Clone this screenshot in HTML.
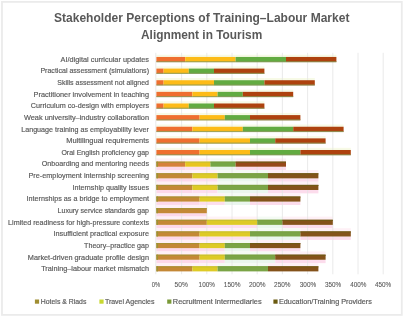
<!DOCTYPE html>
<html><head><meta charset="utf-8"><style>
html,body{margin:0;padding:0;background:#fff;}
svg{display:block;font-family:"Liberation Sans",sans-serif;filter:blur(0.45px);}
</style></head><body>
<svg width="404" height="317" viewBox="0 0 404 317">
<rect x="2" y="1.9" width="399.8" height="313" fill="#fff" stroke="#ebebeb" stroke-width="1.8"/>
<text x="54" y="21.9" font-size="12.9" font-weight="bold" fill="#595959" textLength="295.4" lengthAdjust="spacingAndGlyphs">Stakeholder Perceptions of Training–Labour Market</text>
<text x="141" y="38.7" font-size="12.9" font-weight="bold" fill="#595959" textLength="121.2" lengthAdjust="spacingAndGlyphs">Alignment in Tourism</text>
<rect x="156.40" y="54.75" width="28.80" height="2.2" fill="#F7FAE6"/>
<rect x="185.20" y="54.75" width="50.40" height="2.2" fill="#F7FAE6"/>
<rect x="235.60" y="54.75" width="50.40" height="2.2" fill="#F7FAE6"/>
<rect x="286.00" y="54.75" width="50.40" height="2.2" fill="#F7FAE6"/>
<rect x="156.40" y="66.38" width="7.20" height="2.2" fill="#F7FAE6"/>
<rect x="163.60" y="66.38" width="25.20" height="2.2" fill="#F7FAE6"/>
<rect x="188.80" y="66.38" width="25.20" height="2.2" fill="#F7FAE6"/>
<rect x="214.00" y="66.38" width="50.40" height="2.2" fill="#F7FAE6"/>
<rect x="156.40" y="78.01" width="7.20" height="2.2" fill="#F7FAE6"/>
<rect x="163.60" y="78.01" width="50.40" height="2.2" fill="#F7FAE6"/>
<rect x="214.00" y="78.01" width="50.40" height="2.2" fill="#F7FAE6"/>
<rect x="264.40" y="78.01" width="50.40" height="2.2" fill="#F7FAE6"/>
<rect x="156.40" y="89.64" width="36.00" height="2.2" fill="#F7FAE6"/>
<rect x="192.40" y="89.64" width="25.20" height="2.2" fill="#F7FAE6"/>
<rect x="217.60" y="89.64" width="25.20" height="2.2" fill="#F7FAE6"/>
<rect x="242.80" y="89.64" width="50.40" height="2.2" fill="#F7FAE6"/>
<rect x="156.40" y="101.27" width="7.20" height="2.2" fill="#F7FAE6"/>
<rect x="163.60" y="101.27" width="25.20" height="2.2" fill="#F7FAE6"/>
<rect x="188.80" y="101.27" width="25.20" height="2.2" fill="#F7FAE6"/>
<rect x="214.00" y="101.27" width="50.40" height="2.2" fill="#F7FAE6"/>
<rect x="156.40" y="112.90" width="43.20" height="2.2" fill="#F7FAE6"/>
<rect x="199.60" y="112.90" width="25.20" height="2.2" fill="#F7FAE6"/>
<rect x="224.80" y="112.90" width="25.20" height="2.2" fill="#F7FAE6"/>
<rect x="250.00" y="112.90" width="50.40" height="2.2" fill="#F7FAE6"/>
<rect x="156.40" y="124.53" width="36.00" height="2.2" fill="#F7FAE6"/>
<rect x="192.40" y="124.53" width="50.40" height="2.2" fill="#F7FAE6"/>
<rect x="242.80" y="124.53" width="50.40" height="2.2" fill="#F7FAE6"/>
<rect x="293.20" y="124.53" width="50.40" height="2.2" fill="#F7FAE6"/>
<rect x="156.40" y="136.16" width="43.20" height="2.2" fill="#F7FAE6"/>
<rect x="199.60" y="136.16" width="50.40" height="2.2" fill="#F7FAE6"/>
<rect x="250.00" y="136.16" width="25.20" height="2.2" fill="#F7FAE6"/>
<rect x="275.20" y="136.16" width="50.40" height="2.2" fill="#F7FAE6"/>
<rect x="156.40" y="147.79" width="43.20" height="2.2" fill="#F7FAE6"/>
<rect x="199.60" y="147.79" width="50.40" height="2.2" fill="#F7FAE6"/>
<rect x="250.00" y="147.79" width="50.40" height="2.2" fill="#F7FAE6"/>
<rect x="300.40" y="147.79" width="50.40" height="2.2" fill="#F7FAE6"/>
<rect x="156.40" y="158.42" width="28.80" height="3.2" fill="#FEF0F6"/>
<rect x="156.40" y="166.72" width="28.80" height="3.4" fill="#FDD8EA"/>
<rect x="185.20" y="158.42" width="25.20" height="3.2" fill="#FEF2F6"/>
<rect x="185.20" y="166.72" width="25.20" height="3.4" fill="#FDDEEE"/>
<rect x="210.40" y="158.42" width="25.20" height="3.2" fill="#F4FAF4"/>
<rect x="210.40" y="166.72" width="25.20" height="3.4" fill="#EAF6EE"/>
<rect x="235.60" y="158.42" width="50.40" height="3.2" fill="#FEF0F6"/>
<rect x="235.60" y="166.72" width="50.40" height="3.4" fill="#FCDCEC"/>
<rect x="156.40" y="170.05" width="36.00" height="3.2" fill="#FEF0F6"/>
<rect x="156.40" y="178.35" width="36.00" height="3.4" fill="#FDD8EA"/>
<rect x="192.40" y="170.05" width="25.20" height="3.2" fill="#FEF2F6"/>
<rect x="192.40" y="178.35" width="25.20" height="3.4" fill="#FDDEEE"/>
<rect x="217.60" y="170.05" width="50.40" height="3.2" fill="#F4FAF4"/>
<rect x="217.60" y="178.35" width="50.40" height="3.4" fill="#EAF6EE"/>
<rect x="268.00" y="170.05" width="50.40" height="3.2" fill="#FEF0F6"/>
<rect x="268.00" y="178.35" width="50.40" height="3.4" fill="#FCDCEC"/>
<rect x="156.40" y="181.68" width="36.00" height="3.2" fill="#FEF0F6"/>
<rect x="156.40" y="189.98" width="36.00" height="3.4" fill="#FDD8EA"/>
<rect x="192.40" y="181.68" width="25.20" height="3.2" fill="#FEF2F6"/>
<rect x="192.40" y="189.98" width="25.20" height="3.4" fill="#FDDEEE"/>
<rect x="217.60" y="181.68" width="50.40" height="3.2" fill="#F4FAF4"/>
<rect x="217.60" y="189.98" width="50.40" height="3.4" fill="#EAF6EE"/>
<rect x="268.00" y="181.68" width="50.40" height="3.2" fill="#FEF0F6"/>
<rect x="268.00" y="189.98" width="50.40" height="3.4" fill="#FCDCEC"/>
<rect x="156.40" y="193.31" width="43.20" height="3.2" fill="#FEF0F6"/>
<rect x="156.40" y="201.61" width="43.20" height="3.4" fill="#FDD8EA"/>
<rect x="199.60" y="193.31" width="25.20" height="3.2" fill="#FEF2F6"/>
<rect x="199.60" y="201.61" width="25.20" height="3.4" fill="#FDDEEE"/>
<rect x="224.80" y="193.31" width="25.20" height="3.2" fill="#F4FAF4"/>
<rect x="224.80" y="201.61" width="25.20" height="3.4" fill="#EAF6EE"/>
<rect x="250.00" y="193.31" width="50.40" height="3.2" fill="#FEF0F6"/>
<rect x="250.00" y="201.61" width="50.40" height="3.4" fill="#FCDCEC"/>
<rect x="156.40" y="204.94" width="50.40" height="3.2" fill="#FEF0F6"/>
<rect x="156.40" y="213.24" width="50.40" height="3.4" fill="#FDD8EA"/>
<rect x="156.40" y="216.57" width="50.40" height="3.2" fill="#FEF0F6"/>
<rect x="156.40" y="224.87" width="50.40" height="3.4" fill="#FDD8EA"/>
<rect x="206.80" y="216.57" width="50.40" height="3.2" fill="#FEF2F6"/>
<rect x="206.80" y="224.87" width="50.40" height="3.4" fill="#FDDEEE"/>
<rect x="257.20" y="216.57" width="25.20" height="3.2" fill="#F4FAF4"/>
<rect x="257.20" y="224.87" width="25.20" height="3.4" fill="#EAF6EE"/>
<rect x="282.40" y="216.57" width="50.40" height="3.2" fill="#FEF0F6"/>
<rect x="282.40" y="224.87" width="50.40" height="3.4" fill="#FCDCEC"/>
<rect x="156.40" y="228.20" width="43.20" height="3.2" fill="#FEF0F6"/>
<rect x="156.40" y="236.50" width="43.20" height="3.4" fill="#FDD8EA"/>
<rect x="199.60" y="228.20" width="50.40" height="3.2" fill="#FEF2F6"/>
<rect x="199.60" y="236.50" width="50.40" height="3.4" fill="#FDDEEE"/>
<rect x="250.00" y="228.20" width="50.40" height="3.2" fill="#F4FAF4"/>
<rect x="250.00" y="236.50" width="50.40" height="3.4" fill="#EAF6EE"/>
<rect x="300.40" y="228.20" width="50.40" height="3.2" fill="#FEF0F6"/>
<rect x="300.40" y="236.50" width="50.40" height="3.4" fill="#FCDCEC"/>
<rect x="156.40" y="239.83" width="43.20" height="3.2" fill="#FEF0F6"/>
<rect x="156.40" y="248.13" width="43.20" height="3.4" fill="#FDD8EA"/>
<rect x="199.60" y="239.83" width="25.20" height="3.2" fill="#FEF2F6"/>
<rect x="199.60" y="248.13" width="25.20" height="3.4" fill="#FDDEEE"/>
<rect x="224.80" y="239.83" width="25.20" height="3.2" fill="#F4FAF4"/>
<rect x="224.80" y="248.13" width="25.20" height="3.4" fill="#EAF6EE"/>
<rect x="250.00" y="239.83" width="50.40" height="3.2" fill="#FEF0F6"/>
<rect x="250.00" y="248.13" width="50.40" height="3.4" fill="#FCDCEC"/>
<rect x="156.40" y="251.46" width="43.20" height="3.2" fill="#FEF0F6"/>
<rect x="156.40" y="259.76" width="43.20" height="3.4" fill="#FDD8EA"/>
<rect x="199.60" y="251.46" width="25.20" height="3.2" fill="#FEF2F6"/>
<rect x="199.60" y="259.76" width="25.20" height="3.4" fill="#FDDEEE"/>
<rect x="224.80" y="251.46" width="50.40" height="3.2" fill="#F4FAF4"/>
<rect x="224.80" y="259.76" width="50.40" height="3.4" fill="#EAF6EE"/>
<rect x="275.20" y="251.46" width="50.40" height="3.2" fill="#FEF0F6"/>
<rect x="275.20" y="259.76" width="50.40" height="3.4" fill="#FCDCEC"/>
<rect x="156.40" y="263.09" width="36.00" height="3.2" fill="#FEF0F6"/>
<rect x="192.40" y="263.09" width="25.20" height="3.2" fill="#FEF2F6"/>
<rect x="217.60" y="263.09" width="50.40" height="3.2" fill="#F4FAF4"/>
<rect x="268.00" y="263.09" width="50.40" height="3.2" fill="#FEF0F6"/>
<line x1="155.80" y1="52.8" x2="155.80" y2="274.3" stroke="#e5e5e5" stroke-width="0.8"/>
<line x1="181.60" y1="52.8" x2="181.60" y2="274.3" stroke="#e5e5e5" stroke-width="0.8"/>
<line x1="206.80" y1="52.8" x2="206.80" y2="274.3" stroke="#e5e5e5" stroke-width="0.8"/>
<line x1="232.00" y1="52.8" x2="232.00" y2="274.3" stroke="#e5e5e5" stroke-width="0.8"/>
<line x1="257.20" y1="52.8" x2="257.20" y2="274.3" stroke="#e5e5e5" stroke-width="0.8"/>
<line x1="282.40" y1="52.8" x2="282.40" y2="274.3" stroke="#e5e5e5" stroke-width="0.8"/>
<line x1="307.60" y1="52.8" x2="307.60" y2="274.3" stroke="#e5e5e5" stroke-width="0.8"/>
<line x1="332.80" y1="52.8" x2="332.80" y2="274.3" stroke="#e5e5e5" stroke-width="0.8"/>
<line x1="358.00" y1="52.8" x2="358.00" y2="274.3" stroke="#e5e5e5" stroke-width="0.8"/>
<line x1="383.20" y1="52.8" x2="383.20" y2="274.3" stroke="#e5e5e5" stroke-width="0.8"/>
<rect x="156.40" y="56.95" width="28.80" height="5.1" fill="#EF6F2F"/>
<rect x="185.20" y="56.95" width="50.40" height="5.1" fill="#FDBB17"/>
<rect x="235.60" y="56.95" width="50.40" height="5.1" fill="#62AB41"/>
<rect x="286.00" y="56.95" width="50.40" height="5.1" fill="#AE420E"/>
<rect x="156.40" y="68.58" width="7.20" height="5.1" fill="#EF6F2F"/>
<rect x="163.60" y="68.58" width="25.20" height="5.1" fill="#FDBB17"/>
<rect x="188.80" y="68.58" width="25.20" height="5.1" fill="#62AB41"/>
<rect x="214.00" y="68.58" width="50.40" height="5.1" fill="#AE420E"/>
<rect x="156.40" y="80.21" width="7.20" height="5.1" fill="#EF6F2F"/>
<rect x="163.60" y="80.21" width="50.40" height="5.1" fill="#FDBB17"/>
<rect x="214.00" y="80.21" width="50.40" height="5.1" fill="#62AB41"/>
<rect x="264.40" y="80.21" width="50.40" height="5.1" fill="#AE420E"/>
<rect x="156.40" y="91.84" width="36.00" height="5.1" fill="#EF6F2F"/>
<rect x="192.40" y="91.84" width="25.20" height="5.1" fill="#FDBB17"/>
<rect x="217.60" y="91.84" width="25.20" height="5.1" fill="#62AB41"/>
<rect x="242.80" y="91.84" width="50.40" height="5.1" fill="#AE420E"/>
<rect x="156.40" y="103.47" width="7.20" height="5.1" fill="#EF6F2F"/>
<rect x="163.60" y="103.47" width="25.20" height="5.1" fill="#FDBB17"/>
<rect x="188.80" y="103.47" width="25.20" height="5.1" fill="#62AB41"/>
<rect x="214.00" y="103.47" width="50.40" height="5.1" fill="#AE420E"/>
<rect x="156.40" y="115.10" width="43.20" height="5.1" fill="#EF6F2F"/>
<rect x="199.60" y="115.10" width="25.20" height="5.1" fill="#FDBB17"/>
<rect x="224.80" y="115.10" width="25.20" height="5.1" fill="#62AB41"/>
<rect x="250.00" y="115.10" width="50.40" height="5.1" fill="#AE420E"/>
<rect x="156.40" y="126.73" width="36.00" height="5.1" fill="#EF6F2F"/>
<rect x="192.40" y="126.73" width="50.40" height="5.1" fill="#FDBB17"/>
<rect x="242.80" y="126.73" width="50.40" height="5.1" fill="#62AB41"/>
<rect x="293.20" y="126.73" width="50.40" height="5.1" fill="#AE420E"/>
<rect x="156.40" y="138.36" width="43.20" height="5.1" fill="#EF6F2F"/>
<rect x="199.60" y="138.36" width="50.40" height="5.1" fill="#FDBB17"/>
<rect x="250.00" y="138.36" width="25.20" height="5.1" fill="#62AB41"/>
<rect x="275.20" y="138.36" width="50.40" height="5.1" fill="#AE420E"/>
<rect x="156.40" y="149.99" width="43.20" height="5.1" fill="#EF6F2F"/>
<rect x="199.60" y="149.99" width="50.40" height="5.1" fill="#FDBB17"/>
<rect x="250.00" y="149.99" width="50.40" height="5.1" fill="#62AB41"/>
<rect x="300.40" y="149.99" width="50.40" height="5.1" fill="#AE420E"/>
<rect x="156.40" y="161.62" width="28.80" height="5.1" fill="#D6803A"/>
<rect x="185.20" y="161.62" width="25.20" height="5.1" fill="#E8C420"/>
<rect x="210.40" y="161.62" width="25.20" height="5.1" fill="#74A646"/>
<rect x="235.60" y="161.62" width="50.40" height="5.1" fill="#96481A"/>
<rect x="156.40" y="173.25" width="36.00" height="5.1" fill="#C48836"/>
<rect x="192.40" y="173.25" width="25.20" height="5.1" fill="#DECA26"/>
<rect x="217.60" y="173.25" width="50.40" height="5.1" fill="#7AA446"/>
<rect x="268.00" y="173.25" width="50.40" height="5.1" fill="#84521A"/>
<rect x="156.40" y="184.88" width="36.00" height="5.1" fill="#C48836"/>
<rect x="192.40" y="184.88" width="25.20" height="5.1" fill="#DECA26"/>
<rect x="217.60" y="184.88" width="50.40" height="5.1" fill="#7AA446"/>
<rect x="268.00" y="184.88" width="50.40" height="5.1" fill="#84521A"/>
<rect x="156.40" y="196.51" width="43.20" height="5.1" fill="#C48836"/>
<rect x="199.60" y="196.51" width="25.20" height="5.1" fill="#DECA26"/>
<rect x="224.80" y="196.51" width="25.20" height="5.1" fill="#7AA446"/>
<rect x="250.00" y="196.51" width="50.40" height="5.1" fill="#84521A"/>
<rect x="156.40" y="208.14" width="50.40" height="5.1" fill="#C48836"/>
<rect x="156.40" y="219.77" width="50.40" height="5.1" fill="#C48836"/>
<rect x="206.80" y="219.77" width="50.40" height="5.1" fill="#DECA26"/>
<rect x="257.20" y="219.77" width="25.20" height="5.1" fill="#7AA446"/>
<rect x="282.40" y="219.77" width="50.40" height="5.1" fill="#84521A"/>
<rect x="156.40" y="231.40" width="43.20" height="5.1" fill="#C48836"/>
<rect x="199.60" y="231.40" width="50.40" height="5.1" fill="#DECA26"/>
<rect x="250.00" y="231.40" width="50.40" height="5.1" fill="#7AA446"/>
<rect x="300.40" y="231.40" width="50.40" height="5.1" fill="#84521A"/>
<rect x="156.40" y="243.03" width="43.20" height="5.1" fill="#C48836"/>
<rect x="199.60" y="243.03" width="25.20" height="5.1" fill="#DECA26"/>
<rect x="224.80" y="243.03" width="25.20" height="5.1" fill="#7AA446"/>
<rect x="250.00" y="243.03" width="50.40" height="5.1" fill="#84521A"/>
<rect x="156.40" y="254.66" width="43.20" height="5.1" fill="#C48836"/>
<rect x="199.60" y="254.66" width="25.20" height="5.1" fill="#DECA26"/>
<rect x="224.80" y="254.66" width="50.40" height="5.1" fill="#7AA446"/>
<rect x="275.20" y="254.66" width="50.40" height="5.1" fill="#84521A"/>
<rect x="156.40" y="266.29" width="36.00" height="5.1" fill="#C48836"/>
<rect x="192.40" y="266.29" width="25.20" height="5.1" fill="#DECA26"/>
<rect x="217.60" y="266.29" width="50.40" height="5.1" fill="#7AA446"/>
<rect x="268.00" y="266.29" width="50.40" height="5.1" fill="#84521A"/>
<rect x="156.40" y="61.15" width="28.80" height="1.2" fill="#86985A" fill-opacity="0.75"/>
<rect x="185.20" y="61.15" width="50.40" height="1.2" fill="#86985A" fill-opacity="0.75"/>
<rect x="235.60" y="61.15" width="50.40" height="1.2" fill="#86985A" fill-opacity="0.75"/>
<rect x="286.00" y="61.15" width="50.40" height="1.2" fill="#86985A" fill-opacity="0.75"/>
<rect x="156.40" y="72.78" width="7.20" height="1.2" fill="#86985A" fill-opacity="0.75"/>
<rect x="163.60" y="72.78" width="25.20" height="1.2" fill="#86985A" fill-opacity="0.75"/>
<rect x="188.80" y="72.78" width="25.20" height="1.2" fill="#86985A" fill-opacity="0.75"/>
<rect x="214.00" y="72.78" width="50.40" height="1.2" fill="#86985A" fill-opacity="0.75"/>
<rect x="156.40" y="84.41" width="7.20" height="1.2" fill="#86985A" fill-opacity="0.75"/>
<rect x="163.60" y="84.41" width="50.40" height="1.2" fill="#86985A" fill-opacity="0.75"/>
<rect x="214.00" y="84.41" width="50.40" height="1.2" fill="#86985A" fill-opacity="0.75"/>
<rect x="264.40" y="84.41" width="50.40" height="1.2" fill="#86985A" fill-opacity="0.75"/>
<rect x="156.40" y="96.04" width="36.00" height="1.2" fill="#86985A" fill-opacity="0.75"/>
<rect x="192.40" y="96.04" width="25.20" height="1.2" fill="#86985A" fill-opacity="0.75"/>
<rect x="217.60" y="96.04" width="25.20" height="1.2" fill="#86985A" fill-opacity="0.75"/>
<rect x="242.80" y="96.04" width="50.40" height="1.2" fill="#86985A" fill-opacity="0.75"/>
<rect x="156.40" y="107.67" width="7.20" height="1.2" fill="#86985A" fill-opacity="0.75"/>
<rect x="163.60" y="107.67" width="25.20" height="1.2" fill="#86985A" fill-opacity="0.75"/>
<rect x="188.80" y="107.67" width="25.20" height="1.2" fill="#86985A" fill-opacity="0.75"/>
<rect x="214.00" y="107.67" width="50.40" height="1.2" fill="#86985A" fill-opacity="0.75"/>
<rect x="156.40" y="119.30" width="43.20" height="1.2" fill="#86985A" fill-opacity="0.75"/>
<rect x="199.60" y="119.30" width="25.20" height="1.2" fill="#86985A" fill-opacity="0.75"/>
<rect x="224.80" y="119.30" width="25.20" height="1.2" fill="#86985A" fill-opacity="0.75"/>
<rect x="250.00" y="119.30" width="50.40" height="1.2" fill="#86985A" fill-opacity="0.75"/>
<rect x="156.40" y="130.93" width="36.00" height="1.2" fill="#86985A" fill-opacity="0.75"/>
<rect x="192.40" y="130.93" width="50.40" height="1.2" fill="#86985A" fill-opacity="0.75"/>
<rect x="242.80" y="130.93" width="50.40" height="1.2" fill="#86985A" fill-opacity="0.75"/>
<rect x="293.20" y="130.93" width="50.40" height="1.2" fill="#86985A" fill-opacity="0.75"/>
<rect x="156.40" y="142.56" width="43.20" height="1.2" fill="#86985A" fill-opacity="0.75"/>
<rect x="199.60" y="142.56" width="50.40" height="1.2" fill="#86985A" fill-opacity="0.75"/>
<rect x="250.00" y="142.56" width="25.20" height="1.2" fill="#86985A" fill-opacity="0.75"/>
<rect x="275.20" y="142.56" width="50.40" height="1.2" fill="#86985A" fill-opacity="0.75"/>
<rect x="156.40" y="154.19" width="43.20" height="1.2" fill="#86985A" fill-opacity="0.75"/>
<rect x="199.60" y="154.19" width="50.40" height="1.2" fill="#86985A" fill-opacity="0.75"/>
<rect x="250.00" y="154.19" width="50.40" height="1.2" fill="#86985A" fill-opacity="0.75"/>
<rect x="300.40" y="154.19" width="50.40" height="1.2" fill="#86985A" fill-opacity="0.75"/>
<rect x="156.40" y="161.62" width="28.80" height="1.1" fill="#A89034"/>
<rect x="185.20" y="161.62" width="25.20" height="1.1" fill="#C8C030"/>
<rect x="210.40" y="161.62" width="25.20" height="1.1" fill="#78A040"/>
<rect x="235.60" y="161.62" width="50.40" height="1.1" fill="#705A16"/>
<rect x="156.40" y="173.25" width="36.00" height="1.1" fill="#A89034"/>
<rect x="192.40" y="173.25" width="25.20" height="1.1" fill="#C8C030"/>
<rect x="217.60" y="173.25" width="50.40" height="1.1" fill="#78A040"/>
<rect x="268.00" y="173.25" width="50.40" height="1.1" fill="#705A16"/>
<rect x="156.40" y="184.88" width="36.00" height="1.1" fill="#A89034"/>
<rect x="192.40" y="184.88" width="25.20" height="1.1" fill="#C8C030"/>
<rect x="217.60" y="184.88" width="50.40" height="1.1" fill="#78A040"/>
<rect x="268.00" y="184.88" width="50.40" height="1.1" fill="#705A16"/>
<rect x="156.40" y="196.51" width="43.20" height="1.1" fill="#A89034"/>
<rect x="199.60" y="196.51" width="25.20" height="1.1" fill="#C8C030"/>
<rect x="224.80" y="196.51" width="25.20" height="1.1" fill="#78A040"/>
<rect x="250.00" y="196.51" width="50.40" height="1.1" fill="#705A16"/>
<rect x="156.40" y="208.14" width="50.40" height="1.1" fill="#A89034"/>
<rect x="156.40" y="219.77" width="50.40" height="1.1" fill="#A89034"/>
<rect x="206.80" y="219.77" width="50.40" height="1.1" fill="#C8C030"/>
<rect x="257.20" y="219.77" width="25.20" height="1.1" fill="#78A040"/>
<rect x="282.40" y="219.77" width="50.40" height="1.1" fill="#705A16"/>
<rect x="156.40" y="231.40" width="43.20" height="1.1" fill="#A89034"/>
<rect x="199.60" y="231.40" width="50.40" height="1.1" fill="#C8C030"/>
<rect x="250.00" y="231.40" width="50.40" height="1.1" fill="#78A040"/>
<rect x="300.40" y="231.40" width="50.40" height="1.1" fill="#705A16"/>
<rect x="156.40" y="243.03" width="43.20" height="1.1" fill="#A89034"/>
<rect x="199.60" y="243.03" width="25.20" height="1.1" fill="#C8C030"/>
<rect x="224.80" y="243.03" width="25.20" height="1.1" fill="#78A040"/>
<rect x="250.00" y="243.03" width="50.40" height="1.1" fill="#705A16"/>
<rect x="156.40" y="254.66" width="43.20" height="1.1" fill="#A89034"/>
<rect x="199.60" y="254.66" width="25.20" height="1.1" fill="#C8C030"/>
<rect x="224.80" y="254.66" width="50.40" height="1.1" fill="#78A040"/>
<rect x="275.20" y="254.66" width="50.40" height="1.1" fill="#705A16"/>
<rect x="156.40" y="266.29" width="36.00" height="1.1" fill="#A89034"/>
<rect x="192.40" y="266.29" width="25.20" height="1.1" fill="#C8C030"/>
<rect x="217.60" y="266.29" width="50.40" height="1.1" fill="#78A040"/>
<rect x="268.00" y="266.29" width="50.40" height="1.1" fill="#705A16"/>
<rect x="156.40" y="161.62" width="1.6" height="5.1" fill="#9C9234"/>
<rect x="156.40" y="173.25" width="1.6" height="5.1" fill="#9C9234"/>
<rect x="156.40" y="184.88" width="1.6" height="5.1" fill="#9C9234"/>
<rect x="156.40" y="196.51" width="1.6" height="5.1" fill="#9C9234"/>
<rect x="156.40" y="208.14" width="1.6" height="5.1" fill="#9C9234"/>
<rect x="156.40" y="219.77" width="1.6" height="5.1" fill="#9C9234"/>
<rect x="156.40" y="231.40" width="1.6" height="5.1" fill="#9C9234"/>
<rect x="156.40" y="243.03" width="1.6" height="5.1" fill="#9C9234"/>
<rect x="156.40" y="254.66" width="1.6" height="5.1" fill="#9C9234"/>
<rect x="156.40" y="266.29" width="1.6" height="5.1" fill="#9C9234"/>
<text x="60.6" y="61.80" font-size="7.9" fill="#595959" stroke="#595959" stroke-width="0.18" textLength="88.4" lengthAdjust="spacingAndGlyphs">AI/digital curricular updates</text>
<text x="40.4" y="73.43" font-size="7.9" fill="#595959" stroke="#595959" stroke-width="0.18" textLength="108.6" lengthAdjust="spacingAndGlyphs">Practical assessment (simulations)</text>
<text x="57.3" y="85.06" font-size="7.9" fill="#595959" stroke="#595959" stroke-width="0.18" textLength="91.7" lengthAdjust="spacingAndGlyphs">Skills assessment not aligned</text>
<text x="33.6" y="96.69" font-size="7.9" fill="#595959" stroke="#595959" stroke-width="0.18" textLength="115.4" lengthAdjust="spacingAndGlyphs">Practitioner involvement in teaching</text>
<text x="30.8" y="108.32" font-size="7.9" fill="#595959" stroke="#595959" stroke-width="0.18" textLength="118.2" lengthAdjust="spacingAndGlyphs">Curriculum co-design with employers</text>
<text x="24.0" y="119.95" font-size="7.9" fill="#595959" stroke="#595959" stroke-width="0.18" textLength="125.0" lengthAdjust="spacingAndGlyphs">Weak university–industry collaboration</text>
<text x="21.2" y="131.58" font-size="7.9" fill="#595959" stroke="#595959" stroke-width="0.18" textLength="127.8" lengthAdjust="spacingAndGlyphs">Language training as employability lever</text>
<text x="66.2" y="143.21" font-size="7.9" fill="#595959" stroke="#595959" stroke-width="0.18" textLength="82.8" lengthAdjust="spacingAndGlyphs">Multilingual requirements</text>
<text x="61.4" y="154.84" font-size="7.9" fill="#595959" stroke="#595959" stroke-width="0.18" textLength="87.6" lengthAdjust="spacingAndGlyphs">Oral English proficiency gap</text>
<text x="41.7" y="166.47" font-size="7.9" fill="#595959" stroke="#595959" stroke-width="0.18" textLength="107.3" lengthAdjust="spacingAndGlyphs">Onboarding and mentoring needs</text>
<text x="28.5" y="178.10" font-size="7.9" fill="#595959" stroke="#595959" stroke-width="0.18" textLength="120.5" lengthAdjust="spacingAndGlyphs">Pre-employment internship screening</text>
<text x="72.5" y="189.73" font-size="7.9" fill="#595959" stroke="#595959" stroke-width="0.18" textLength="76.5" lengthAdjust="spacingAndGlyphs">Internship quality issues</text>
<text x="26.5" y="201.36" font-size="7.9" fill="#595959" stroke="#595959" stroke-width="0.18" textLength="122.5" lengthAdjust="spacingAndGlyphs">Internships as a bridge to employment</text>
<text x="57.6" y="212.99" font-size="7.9" fill="#595959" stroke="#595959" stroke-width="0.18" textLength="91.4" lengthAdjust="spacingAndGlyphs">Luxury service standards gap</text>
<text x="8.1" y="224.62" font-size="7.9" fill="#595959" stroke="#595959" stroke-width="0.18" textLength="140.9" lengthAdjust="spacingAndGlyphs">Limited readiness for high-pressure contexts</text>
<text x="53.5" y="236.25" font-size="7.9" fill="#595959" stroke="#595959" stroke-width="0.18" textLength="95.5" lengthAdjust="spacingAndGlyphs">Insufficient practical exposure</text>
<text x="84.1" y="247.88" font-size="7.9" fill="#595959" stroke="#595959" stroke-width="0.18" textLength="64.9" lengthAdjust="spacingAndGlyphs">Theory–practice gap</text>
<text x="27.8" y="259.51" font-size="7.9" fill="#595959" stroke="#595959" stroke-width="0.18" textLength="121.2" lengthAdjust="spacingAndGlyphs">Market-driven graduate profile design</text>
<text x="41.2" y="271.14" font-size="7.9" fill="#595959" stroke="#595959" stroke-width="0.18" textLength="107.8" lengthAdjust="spacingAndGlyphs">Training–labour market mismatch</text>
<text x="151.8" y="287.3" font-size="8.1" fill="#595959" stroke="#595959" stroke-width="0.1" textLength="8.4" lengthAdjust="spacingAndGlyphs">0%</text>
<text x="174.6" y="287.3" font-size="8.1" fill="#595959" stroke="#595959" stroke-width="0.1" textLength="13.3" lengthAdjust="spacingAndGlyphs">50%</text>
<text x="198.6" y="287.3" font-size="8.1" fill="#595959" stroke="#595959" stroke-width="0.1" textLength="16.3" lengthAdjust="spacingAndGlyphs">100%</text>
<text x="223.8" y="287.3" font-size="8.1" fill="#595959" stroke="#595959" stroke-width="0.1" textLength="16.7" lengthAdjust="spacingAndGlyphs">150%</text>
<text x="249" y="287.3" font-size="8.1" fill="#595959" stroke="#595959" stroke-width="0.1" textLength="16.6" lengthAdjust="spacingAndGlyphs">200%</text>
<text x="274.1" y="287.3" font-size="8.1" fill="#595959" stroke="#595959" stroke-width="0.1" textLength="16.5" lengthAdjust="spacingAndGlyphs">250%</text>
<text x="299.8" y="287.3" font-size="8.1" fill="#595959" stroke="#595959" stroke-width="0.1" textLength="16.4" lengthAdjust="spacingAndGlyphs">300%</text>
<text x="325" y="287.3" font-size="8.1" fill="#595959" stroke="#595959" stroke-width="0.1" textLength="16.2" lengthAdjust="spacingAndGlyphs">350%</text>
<text x="350.3" y="287.3" font-size="8.1" fill="#595959" stroke="#595959" stroke-width="0.1" textLength="16.2" lengthAdjust="spacingAndGlyphs">400%</text>
<text x="375" y="287.3" font-size="8.1" fill="#595959" stroke="#595959" stroke-width="0.1" textLength="16.2" lengthAdjust="spacingAndGlyphs">450%</text>
<rect x="34.9" y="299.5" width="4.2" height="4.2" fill="#A08E32"/>
<text x="40.8" y="304.1" font-size="7.6" fill="#595959" stroke="#595959" stroke-width="0.18" textLength="45.6" lengthAdjust="spacingAndGlyphs">Hotels &amp; Riads</text>
<rect x="99.4" y="299.5" width="4.2" height="4.2" fill="#C8D830"/>
<text x="104.9" y="304.1" font-size="7.6" fill="#595959" stroke="#595959" stroke-width="0.18" textLength="49.5" lengthAdjust="spacingAndGlyphs">Travel Agencies</text>
<rect x="167.2" y="299.5" width="4.2" height="4.2" fill="#7A9A38"/>
<text x="172.8" y="304.1" font-size="7.6" fill="#595959" stroke="#595959" stroke-width="0.18" textLength="88.9" lengthAdjust="spacingAndGlyphs">Recruitment Intermediaries</text>
<rect x="273.4" y="299.5" width="4.2" height="4.2" fill="#6A5A10"/>
<text x="279" y="304.1" font-size="7.6" fill="#595959" stroke="#595959" stroke-width="0.18" textLength="92.8" lengthAdjust="spacingAndGlyphs">Education/Training Providers</text>
</svg>
</body></html>
